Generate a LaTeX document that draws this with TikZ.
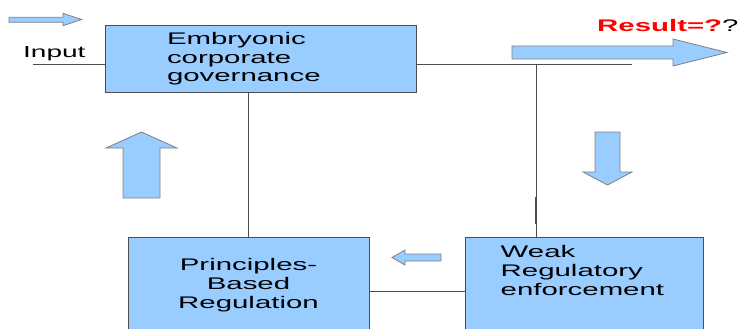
\documentclass[tikz,border=0pt]{standalone}
\usepackage{fontspec}
\setmainfont[FakeStretch=1.75]{Liberation Sans}
\usetikzlibrary{positioning}
\definecolor{boxblue}{HTML}{99CCFF}
\definecolor{rulegray}{HTML}{4D4D4D}
\definecolor{resred}{HTML}{FF0000}

\begin{document}
\begin{tikzpicture}[x=1pt, y=-1pt,
  box/.style={draw=rulegray, fill=boxblue, line width=1pt, inner sep=0pt},
  txt/.style={inner sep=0pt, font=\fontsize{16.8}{18.6}\selectfont},
  blk/.style={draw=black!50, fill=boxblue, line width=0.8pt, line join=miter},
  wire/.style={draw=rulegray, line width=1pt}
]
  \clip (0,0) rectangle (741,329);

  \node[box, txt, minimum width=311pt, minimum height=66pt, text width=187pt, align=left] (gov) at (260.5,59) {Embryonic\\corporate\\governance};
  \node[box, minimum width=241pt, minimum height=108pt] (pbr) at (248.5,291) {};
  \node[box, minimum width=238pt, minimum height=108pt] (wk) at (584,291) {};
  \node[txt, align=center, below=22pt of pbr.north] (pbrtxt) {Principles-\\Based\\Regulation};
  \node[txt, align=left, below right=9pt and 36pt of wk.north west] (wktxt) {Weak\\Regulatory\\enforcement};

  \node[txt, font=\fontsize{16}{18}\selectfont, anchor=base west] (inlbl) at (23,57) {Input};
  \node[txt, anchor=base west] (res) at (597,32) {\textcolor{resred}{\bfseries Result=?}?};

  \coordinate (inp) at (33,65);
  \coordinate (outp) at (632,65);
  \coordinate (tap) at (536,65);

  \draw[wire] (inp) -- (inp -| gov.west);
  \draw[wire] (gov.east |- outp) -- (outp);
  \draw[wire] (tap) -- (tap |- wk.north);
  \draw[rulegray, line width=2pt] (536,197) -- (536,224);
  \draw[wire] (pbr.north) -- (pbr.north |- gov.south);
  \draw[wire] (pbr.east) -- (wk.west);

  \draw[blk] (9,17.3) -- (63,17.3) -- (63,13.3) -- (81.7,19.5) -- (63,25.7) -- (63,22.3) -- (9,22.3) -- cycle;
  \draw[blk] (512,46) -- (673,46) -- (673,39) -- (727,52.5) -- (673,66) -- (673,59) -- (512,59) -- cycle;
  \draw[blk] (595,132) -- (620,132) -- (620,172) -- (632,172) -- (607.5,185) -- (583,172) -- (595,172) -- cycle;
  \draw[blk] (123,198) -- (160,198) -- (160,148) -- (177,148) -- (141.5,132) -- (106,148) -- (123,148) -- cycle;
  \draw[blk] (441,254) -- (405,254) -- (405,250) -- (392,257.5) -- (405,265) -- (405,261) -- (441,261) -- cycle;
\end{tikzpicture}
\end{document}
